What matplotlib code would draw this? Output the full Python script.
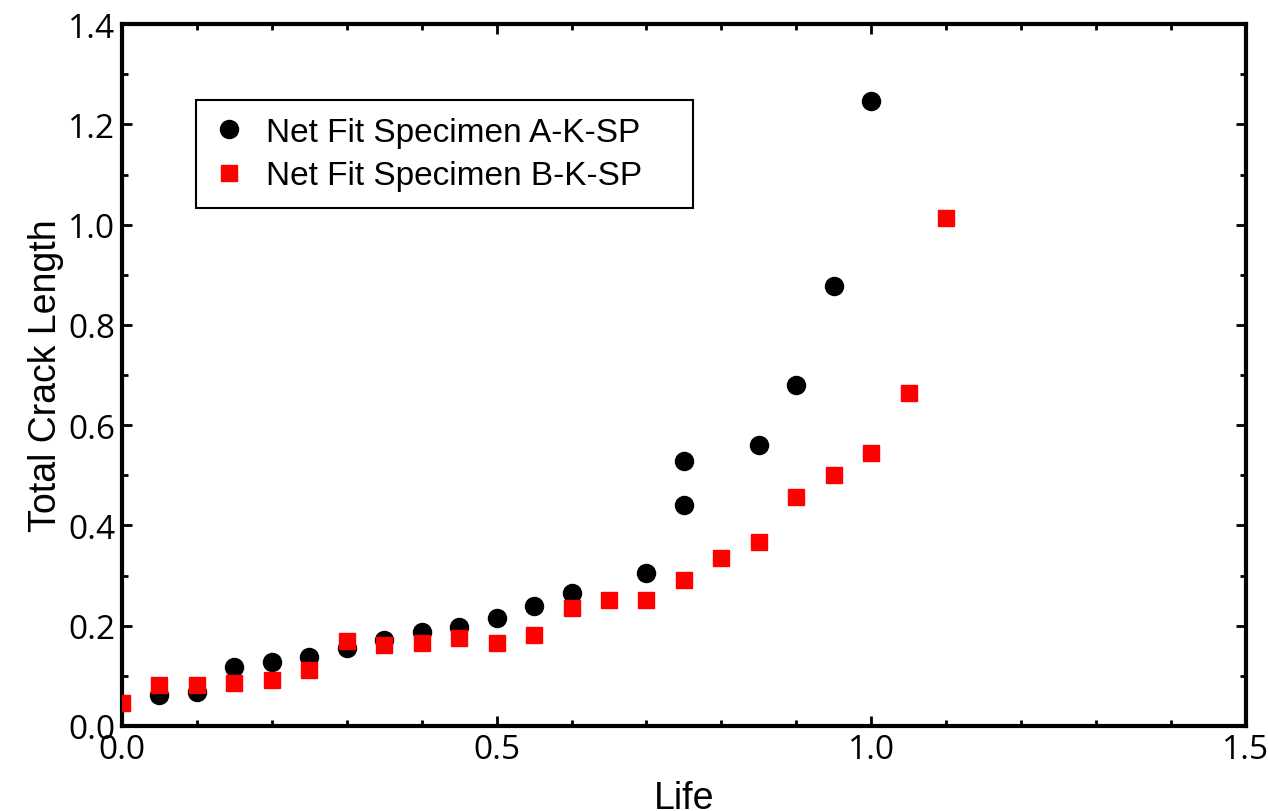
import numpy as np
import matplotlib.pyplot as plt
from matplotlib.ticker import MultipleLocator

# Specimen A (black circles)
life_a = [0.05, 0.10, 0.15, 0.20, 0.25, 0.30, 0.35, 0.40, 0.45, 0.50,
          0.55, 0.60, 0.70, 0.75, 0.75, 0.85, 0.90, 0.95, 1.00]
crack_a = [0.062, 0.068, 0.118, 0.128, 0.138, 0.155, 0.172, 0.188, 0.198, 0.215,
           0.240, 0.266, 0.305, 0.440, 0.528, 0.560, 0.680, 0.877, 1.246]

# Specimen B (red squares)
life_b = [0.00, 0.05, 0.10, 0.15, 0.20, 0.25, 0.30, 0.35, 0.40, 0.45, 0.50,
          0.55, 0.60, 0.65, 0.70, 0.75, 0.80, 0.85, 0.90, 0.95, 1.00, 1.05, 1.10]
crack_b = [0.046, 0.082, 0.082, 0.086, 0.092, 0.112, 0.170, 0.162, 0.166, 0.176, 0.166,
           0.181, 0.236, 0.251, 0.251, 0.291, 0.335, 0.367, 0.457, 0.500, 0.544, 0.664, 1.013]

label_a = 'Net Fit Specimen A-K-SP'
label_b = 'Net Fit Specimen B-K-SP'

plt.rcParams['font.family'] = ['Liberation Sans', 'DejaVu Sans']

fig = plt.figure(figsize=(12.68, 8.12), dpi=100)
ax = fig.add_axes([0.0962, 0.1047, 0.8864, 0.8643])

ax.plot(life_a, crack_a, 'o', color='black', markersize=13, label=label_a, zorder=3)
ax.plot(life_b, crack_b, 's', color='#ff0000', markersize=12, label=label_b, zorder=4)

ax.set_xlim(0, 1.5)
ax.set_ylim(0, 1.4)
ax.xaxis.set_major_locator(MultipleLocator(0.5))
ax.xaxis.set_minor_locator(MultipleLocator(0.1))
ax.yaxis.set_major_locator(MultipleLocator(0.2))
ax.yaxis.set_minor_locator(MultipleLocator(0.1))
ax.xaxis.set_major_formatter(lambda v, p: f'{v:.1f}')
ax.yaxis.set_major_formatter(lambda v, p: f'{v:.1f}')

for s in ax.spines.values():
    s.set_linewidth(3)
ax.tick_params(which='both', direction='in', top=True, right=True, width=2)
ax.tick_params(which='major', length=7, labelsize=24, pad=5)
ax.tick_params(which='minor', length=4)
for lbl in ax.get_xticklabels() + ax.get_yticklabels():
    lbl.set_family('Open Sans')

ax.set_xlabel('Life', fontsize=27, labelpad=10)
ax.set_ylabel('Total Crack Length', fontsize=27, labelpad=3)

# legend box: fixed width like the original
leg = ax.legend(loc='upper left', bbox_to_anchor=(0.066, 0.892, 0.442, 0.0),
                mode='expand', borderaxespad=0, fontsize=24,
                frameon=True, fancybox=False, edgecolor='black', framealpha=1,
                handletextpad=0.6, borderpad=0.5, labelspacing=0.38, handlelength=1.0)
leg.get_frame().set_linewidth(1.5)

fig.savefig('out.png', dpi=100)
